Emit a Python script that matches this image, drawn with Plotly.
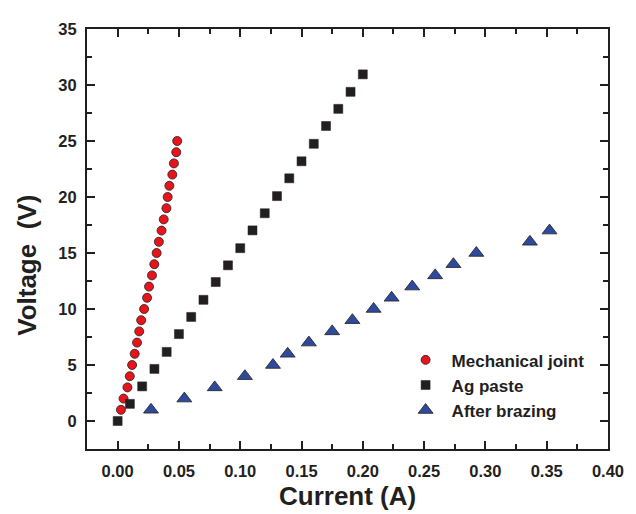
import plotly.graph_objects as go

# Mechanical joint
mech_current = [0.0027, 0.0048, 0.0080, 0.0099, 0.0118, 0.0139, 0.0158, 0.0176, 0.0192, 0.0216,
                0.0240, 0.0256, 0.0280, 0.0299, 0.0318, 0.0336, 0.0358, 0.0376, 0.0398, 0.0408,
                0.0422, 0.0446, 0.0459, 0.0478, 0.0486]
mech_voltage = [1, 2, 3, 4, 5, 6, 7, 8, 9, 10, 11, 12, 13, 14, 15, 16, 17, 18, 19, 20,
                21, 22, 23, 24, 25]

# Ag paste
ag_current = [0.00, 0.01, 0.02, 0.03, 0.04, 0.05, 0.06, 0.07, 0.08, 0.09, 0.10,
              0.11, 0.12, 0.13, 0.14, 0.15, 0.16, 0.17, 0.18, 0.19, 0.20]
ag_voltage = [0.0, 1.53, 3.09, 4.65, 6.17, 7.76, 9.29, 10.82, 12.41, 13.90, 15.43,
              17.02, 18.55, 20.08, 21.67, 23.19, 24.75, 26.34, 27.87, 29.39, 30.95]

# After brazing
br_current = [0.0272, 0.0544, 0.0792, 0.1038, 0.1267, 0.1387, 0.1560, 0.1750, 0.1915,
              0.2088, 0.2235, 0.2403, 0.2590, 0.2739, 0.2926, 0.3363, 0.3523]
br_voltage = [1, 2, 3, 4, 5, 6, 7, 8, 9, 10, 11, 12, 13, 14, 15, 16, 17]

x_ticks = [0.00, 0.05, 0.10, 0.15, 0.20, 0.25, 0.30, 0.35, 0.40]
y_ticks = [0, 5, 10, 15, 20, 25, 30, 35]

INK = "#231F20"
FONT = "Liberation Sans, Arial, sans-serif"

fig = go.Figure()
fig.add_trace(go.Scatter(
    x=mech_current, y=mech_voltage, mode="markers", name="Mechanical joint",
    legendgroup="a",
    marker=dict(symbol="circle", size=9, color="#E8141C", line=dict(color=INK, width=0.8))))
fig.add_trace(go.Scatter(
    x=ag_current, y=ag_voltage, mode="markers", name="Ag paste",
    legendgroup="b",
    marker=dict(symbol="square", size=9, color=INK, line=dict(color=INK, width=0.5))))
fig.add_trace(go.Scatter(
    x=br_current, y=br_voltage, mode="markers", name="After brazing",
    legendgroup="c",
    marker=dict(symbol="triangle-up", size=13, color="#2D4A9C", line=dict(color=INK, width=0.8))))

axis_common = dict(
    showline=True, linewidth=2, linecolor=INK, mirror="ticks",
    ticks="inside", ticklen=8, tickwidth=2, tickcolor=INK,
    showgrid=False, zeroline=False,
    tickfont=dict(family=FONT, size=16.5, color=INK, weight="bold"),
)

fig.update_xaxes(
    range=[-0.025, 0.40], tickvals=x_ticks, tickformat=".2f",
    minor=dict(dtick=0.025, tick0=0, ticks="inside", ticklen=5, tickwidth=2, tickcolor=INK),
    ticklabelstandoff=6,
    **axis_common)
fig.update_yaxes(
    range=[-2.5, 35], tickvals=y_ticks,
    minor=dict(dtick=2.5, tick0=0, ticks="inside", ticklen=5, tickwidth=2, tickcolor=INK),
    ticklabelstandoff=5,
    **axis_common)

fig.update_layout(
    width=628, height=506,
    margin=dict(l=79, r=18, t=15, b=65),
    paper_bgcolor="white", plot_bgcolor="white",
    showlegend=True,
    legend=dict(x=0.60, y=0.254, xanchor="left", yanchor="top",
                bgcolor="rgba(0,0,0,0)", itemwidth=42, tracegroupgap=0,
                font=dict(family=FONT, size=17, color=INK, weight="bold")),
    annotations=[
        dict(text="Current (A)", xref="paper", yref="paper", x=0.5, y=-0.113,
             xanchor="center", yanchor="middle", showarrow=False,
             font=dict(family=FONT, size=26, color=INK, weight="bold")),
        dict(text="Voltage\u00a0\u00a0(V)", xref="paper", yref="paper", x=-0.114, y=0.4377,
             xanchor="center", yanchor="middle", showarrow=False, textangle=-90,
             font=dict(family=FONT, size=26, color=INK, weight="bold")),
    ],
)

fig.write_html("out.html")
